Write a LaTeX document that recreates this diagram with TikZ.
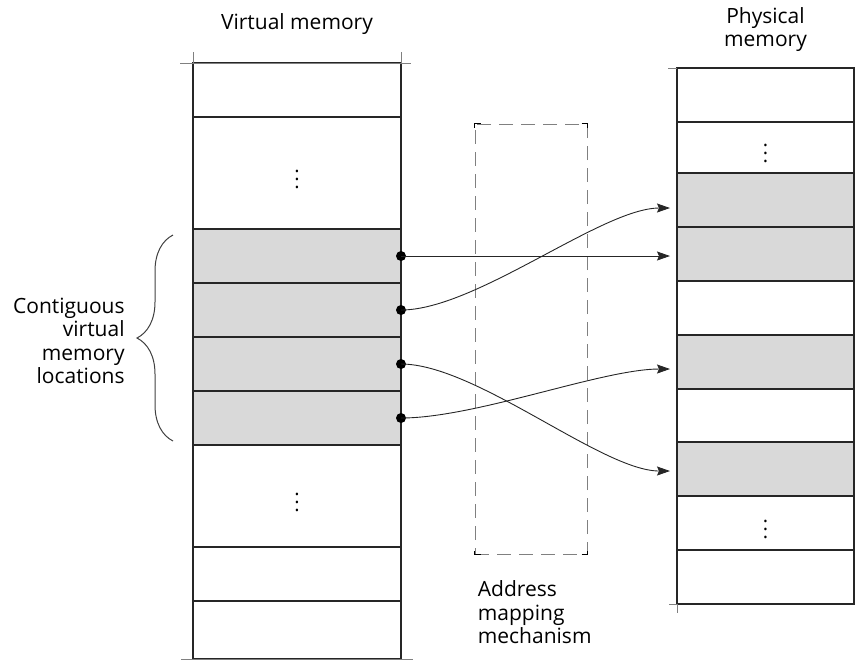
\documentclass[tikz,border=0pt]{standalone}
\usepackage{fontspec}
\setmainfont{Open Sans}
\usetikzlibrary{arrows.meta, positioning, calc, decorations.pathreplacing}

\begin{document}
\begin{tikzpicture}[
    x=0.5pt, y=-0.5pt,
    cell/.style={rectangle, draw=black!85, line width=0.9pt, inner sep=0pt, outer sep=0pt, minimum height=27pt},
    vcell/.style={cell, minimum width=104pt},
    pcell/.style={cell, minimum width=88.5pt},
    used/.style={fill=black!15},
    trim/.style={draw=black!50, line width=0.5pt},
    lbl/.style={font=\fontsize{10.5}{11.75}\selectfont, inner sep=0pt},
    dot/.style={circle, fill=black, inner sep=0pt, minimum size=5pt},
    arrow/.style={-{Stealth[length=6.5pt, width=4.5pt, inset=1pt]}, draw=black!85, line width=0.45pt, shorten >=3.5pt},
    mapbox/.style={rectangle, draw=black!50, dash pattern=on 7pt off 4pt, line width=0.5pt, minimum width=56pt, minimum height=215pt},
    corner/.style={draw=black, line width=0.9pt},
    brace/.style={decorate, decoration={brace, amplitude=18pt}, draw=black!75, line width=0.5pt}
]
\useasboundingbox (0,0) rectangle (855,661);

% virtual memory
\node[vcell] (v1) at (297,90) {};
\node[vcell, minimum height=56pt, below=0pt of v1] (v2) {$\vdots$};
\node[vcell, used, below=0pt of v2] (v3) {};
\node[vcell, used, below=0pt of v3] (v4) {};
\node[vcell, used, below=0pt of v4] (v5) {};
\node[vcell, used, below=0pt of v5] (v6) {};
\node[vcell, minimum height=51pt, below=0pt of v6] (v7) {$\vdots$};
\node[vcell, below=0pt of v7] (v8) {};
\node[vcell, minimum height=29pt, below=0pt of v8] (v9) {};
\draw[trim] ([xshift=-6.5pt]v1.north west) -- ([xshift=5pt]v1.north east);
\draw[trim] ([yshift=5.5pt]v1.north west) -- (v1.north west);
\draw[trim] ([yshift=5.5pt]v1.north east) -- (v1.north east);
\draw[trim] ([xshift=-6pt]v9.south west) -- ([xshift=6pt]v9.south east);

% physical memory
\node[pcell] (p1) at (765.5,95) {};
\node[pcell, minimum height=25.5pt, below=0pt of p1] (p2) {$\vdots$};
\node[pcell, used, below=0pt of p2] (p3) {};
\node[pcell, used, below=0pt of p3] (p4) {};
\node[pcell, below=0pt of p4] (p5) {};
\node[pcell, used, below=0pt of p5] (p6) {};
\node[pcell, minimum height=26.5pt, below=0pt of p6] (p7) {};
\node[pcell, used, below=0pt of p7] (p8) {};
\node[pcell, below=0pt of p8] (p9) {$\vdots$};
\node[pcell, below=0pt of p9] (p10) {};
\draw[trim] ([xshift=-4.5pt]p1.north west) -- (p1.north west);
\draw[trim] ([xshift=-4pt]p10.south west) -- (p10.south west) -- ([yshift=-4.5pt]p10.south west);

% titles
\node[lbl, above=14pt of v1] (vtitle) {Virtual memory};
\node[lbl, align=center, above=8pt of p1] (ptitle) {Physical\\memory};

% address mapping box
\node[mapbox] (map) at (531,339) {};
\draw[corner] ([xshift=3pt]map.north west) -- (map.north west) -- ([yshift=-2pt]map.north west);
\draw[corner] ([xshift=-3pt]map.north east) -- (map.north east) -- ([yshift=-2pt]map.north east);
\draw[corner] ([xshift=3pt]map.south west) -- (map.south west) -- ([yshift=2pt]map.south west);
\draw[corner] ([xshift=-3pt]map.south east) -- (map.south east) -- ([yshift=2pt]map.south east);
\node[lbl, align=left, below right=13pt and 1.5pt of map.south west] (maptxt) {Address\\mapping\\mechanism};

% contiguous block
\draw[brace] ([xshift=-10pt,yshift=2pt]v6.south west) -- ([xshift=-10pt,yshift=-3pt]v3.north west);
\coordinate (bmid) at ($(v3.north west)!0.5!(v6.south west)$);
\node[lbl, align=right, left=34pt of bmid, yshift=-2pt] (ctxt) {Contiguous\\virtual\\memory\\locations};

% mappings
\node[dot] (d1) at (v3.east) {};
\node[dot] (d2) at (v4.east) {};
\node[dot] (d3) at (v5.east) {};
\node[dot] (d4) at (v6.east) {};
\draw[arrow] (d1.center) -- (d1.center -| p4.west);
\draw[arrow] (d2.center) .. controls +(75,0) and +(-75,0) .. ([yshift=-4pt]p3.west);
\draw[arrow] (d3.center) .. controls +(75,0) and +(-75,0) .. ([yshift=-1pt]p8.west);
\draw[arrow] (d4.center) .. controls +(75,0) and +(-75,0) .. ([yshift=-3.5pt]p6.west);
\end{tikzpicture}
\end{document}
